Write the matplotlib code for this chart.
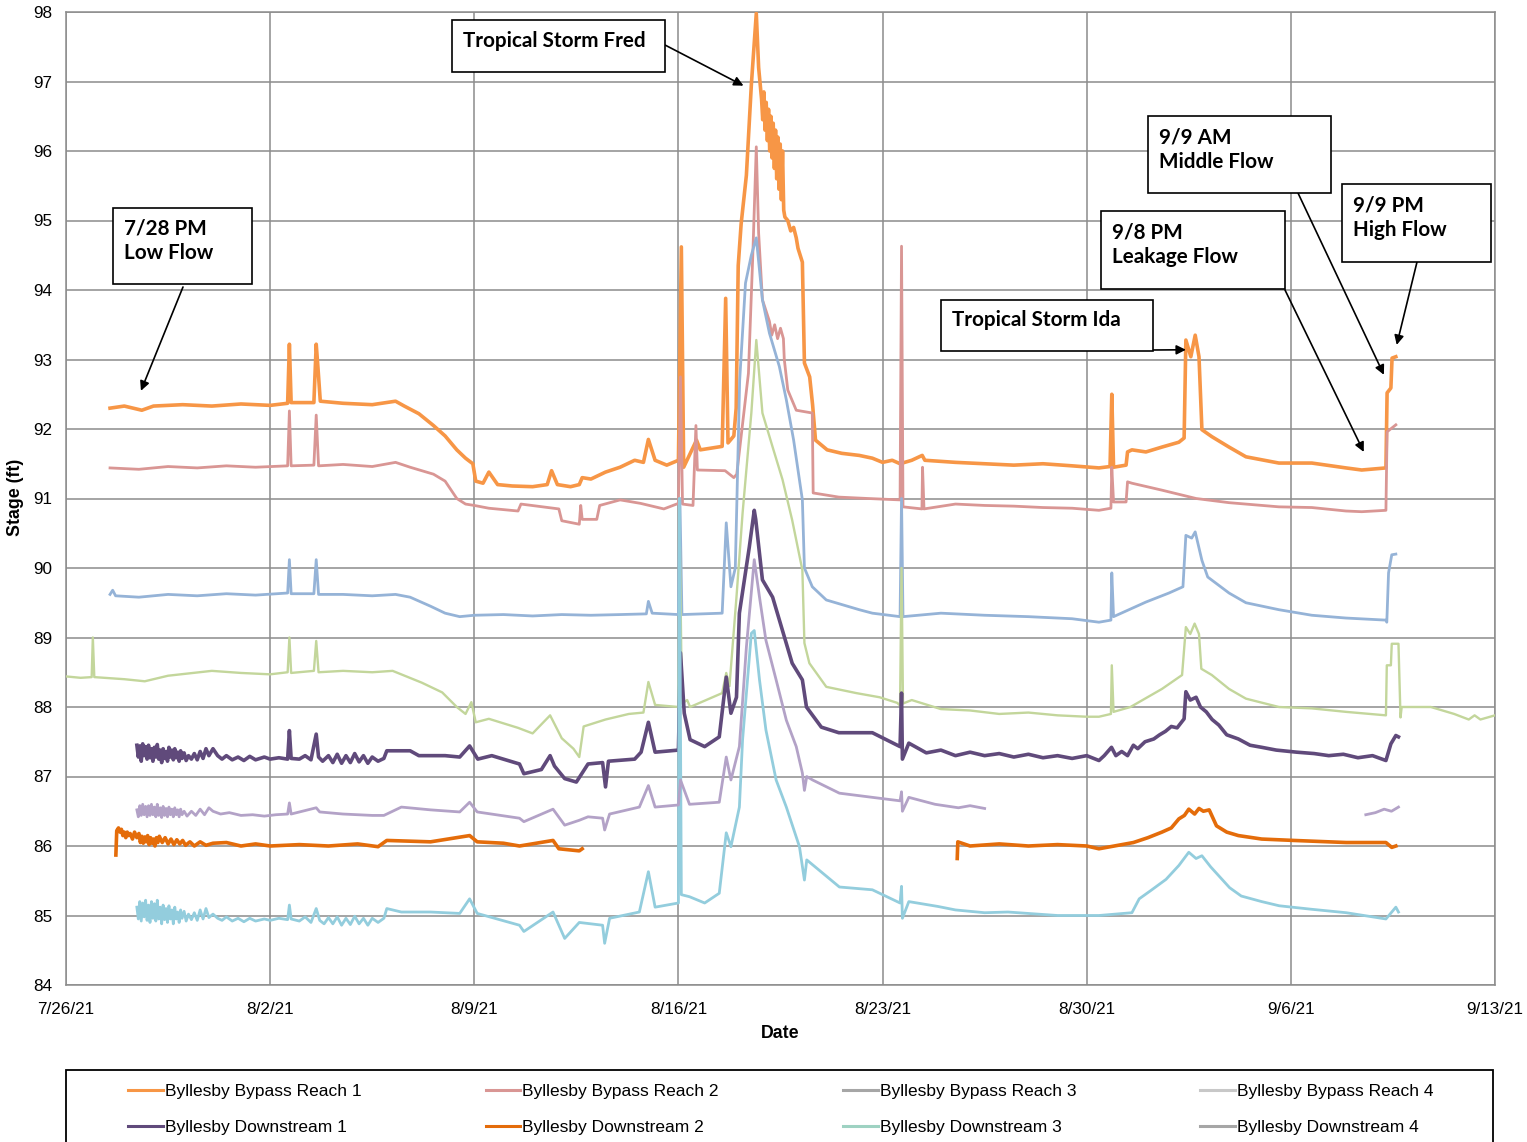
import numpy as np
import pandas as pd
import matplotlib.pyplot as plt
from matplotlib.patches import Rectangle
from matplotlib.lines import Line2D

plt.rcParams['font.family'] = ['Liberation Sans', 'DejaVu Sans']

# time axis: days since 7/26/21
START = pd.Timestamp('2021-07-26')

# Byllesby Bypass Reach 1
r1_t = [1.51, 2.0, 2.6, 3.0, 4.0, 5.0, 6.0, 7.0, 7.6, 7.66, 7.72, 8.5, 8.58, 8.64, 8.72, 9.5, 10.5,
        11.3, 11.6, 12.1, 12.6, 13.0, 13.4, 13.7, 13.95, 14.05, 14.3, 14.5, 14.8, 15.3, 16.0, 16.5,
        16.65, 16.85, 17.3, 17.6, 17.7, 18.0, 18.5, 19.0, 19.5, 19.8, 19.97, 20.2, 20.6, 21.0, 21.1,
        21.18, 21.35, 21.62, 21.75, 22.5, 22.62, 22.7, 22.9, 22.98, 23.05, 23.15, 23.33, 23.5, 23.67,
        23.75, 23.85, 23.89, 23.93, 23.97, 24.01, 24.05, 24.09, 24.13, 24.17, 24.21, 24.25, 24.29,
        24.33, 24.37, 24.41, 24.45, 24.49, 24.53, 24.57, 24.61, 24.65, 24.75, 24.85, 24.95, 25.04,
        25.1, 25.25, 25.32, 25.5, 25.6, 25.7, 26.1, 26.6, 27.2, 27.65, 28.0, 28.33, 28.6, 29.0,
        29.36, 29.45, 30.5, 31.5, 32.5, 33.5, 34.5, 35.42, 35.8, 35.86, 35.92, 36.35, 36.4, 36.55,
        37.03, 37.58, 38.16, 38.34, 38.4, 38.57, 38.72, 38.85, 38.95, 39.29, 39.88, 40.46, 41.59,
        42.72, 43.89, 44.43, 45.26, 45.3, 45.43, 45.47, 45.6]
r1_v = [92.30, 92.33, 92.27, 92.33, 92.35, 92.33, 92.36, 92.34, 92.37, 93.22, 92.38, 92.38, 93.22,
        92.88, 92.40, 92.37, 92.35, 92.40, 92.33, 92.22, 92.05, 91.90, 91.70, 91.58, 91.50, 91.25,
        91.22, 91.38, 91.20, 91.18, 91.17, 91.20, 91.40, 91.20, 91.17, 91.20, 91.30, 91.28, 91.38,
        91.45, 91.55, 91.52, 91.85, 91.55, 91.48, 91.55, 94.62, 91.45, 91.60, 91.84, 91.70, 91.75,
        93.88, 91.80, 91.90, 92.30, 94.35, 94.95, 95.65, 96.95, 97.98, 97.20, 96.75, 96.45, 96.85,
        96.30, 96.70, 96.15, 96.60, 96.00, 96.50, 95.90, 96.40, 95.75, 96.30, 95.60, 96.20, 95.45,
        96.10, 95.30, 96.00, 95.15, 95.05, 95.00, 94.85, 94.90, 94.75, 94.60, 94.40, 92.95, 92.75,
        92.35, 91.84, 91.70, 91.65, 91.62, 91.58, 91.52, 91.55, 91.50, 91.55, 91.62, 91.55, 91.52,
        91.50, 91.48, 91.50, 91.47, 91.44, 91.46, 92.50, 91.45, 91.48, 91.67, 91.70, 91.67, 91.74,
        91.81, 91.87, 93.28, 93.04, 93.35, 93.04, 91.99, 91.89, 91.74, 91.60, 91.51, 91.51, 91.44,
        91.41, 91.44, 92.52, 92.59, 93.02, 93.04]

# Byllesby Bypass Reach 2
r2_t = [1.51, 2.5, 3.5, 4.5, 5.5, 6.5, 7.6, 7.66, 7.72, 8.5, 8.58, 8.66, 9.5, 10.5, 11.3, 11.8, 12.6,
        13.0, 13.4, 13.7, 14.0, 14.5, 15.5, 15.6, 16.9, 17.0, 17.6, 17.65, 17.7, 18.2, 18.3, 19.0,
        19.7, 20.5, 21.0, 21.07, 21.14, 21.5, 21.6, 21.65, 22.6, 22.9, 23.0, 23.4, 23.55, 23.67,
        23.75, 23.88, 24.12, 24.2, 24.3, 24.4, 24.5, 24.6, 24.63, 24.75, 25.04, 25.59, 25.62, 26.5,
        27.5, 28.6, 28.65, 28.7, 29.35, 29.37, 29.42, 30.5, 31.5, 32.5, 33.5, 34.5, 35.42, 35.83,
        35.86, 35.92, 36.35, 36.4, 36.55, 37.58, 38.75, 39.88, 41.59, 42.72, 43.89, 44.43, 45.26,
        45.3, 45.6]
r2_v = [91.44, 91.42, 91.46, 91.44, 91.47, 91.45, 91.47, 92.26, 91.47, 91.48, 92.20, 91.47, 91.49,
        91.46, 91.52, 91.45, 91.35, 91.25, 91.00, 90.92, 90.90, 90.86, 90.82, 90.92, 90.85, 90.68,
        90.63, 90.90, 90.70, 90.70, 90.90, 90.98, 90.93, 90.85, 90.93, 92.75, 90.92, 90.90, 92.05,
        91.41, 91.40, 91.30, 91.35, 92.80, 94.50, 96.06, 94.82, 93.86, 93.55, 93.35, 93.50, 93.30,
        93.45, 93.30, 93.00, 92.56, 92.27, 92.23, 91.08, 91.02, 91.00, 90.98, 94.63, 90.88, 90.85,
        91.45, 90.85, 90.92, 90.90, 90.89, 90.87, 90.86, 90.83, 90.86, 91.45, 90.95, 90.95, 91.24,
        91.22, 91.12, 91.00, 90.94, 90.88, 90.87, 90.82, 90.81, 90.83, 91.96, 92.06]

# Byllesby Bypass Reach 3
r3_t = [1.51, 1.6, 1.7, 2.5, 3.5, 4.5, 5.5, 6.5, 7.6, 7.66, 7.72, 8.5, 8.58, 8.66, 9.5, 10.5, 11.3,
        11.8, 12.5, 13.0, 13.5, 14.0, 15.0, 16.0, 17.0, 18.0, 19.0, 19.9, 19.97, 20.1, 21.0, 21.05,
        21.12, 22.5, 22.64, 22.8, 22.95, 23.0, 23.1, 23.3, 23.5, 23.67, 23.88, 24.12, 24.46, 24.7,
        24.95, 25.25, 25.32, 25.59, 26.07, 27.2, 27.65, 28.6, 28.65, 28.7, 30.0, 31.5, 33.0, 34.5,
        35.42, 35.83, 35.86, 35.92, 37.03, 37.82, 38.3, 38.4, 38.6, 38.72, 38.95, 39.15, 39.88,
        40.46, 41.59, 42.72, 43.89, 45.26, 45.29, 45.35, 45.46, 45.6]
r3_v = [89.62, 89.68, 89.60, 89.58, 89.62, 89.60, 89.63, 89.61, 89.64, 90.12, 89.63, 89.63, 90.12,
        89.62, 89.62, 89.60, 89.62, 89.58, 89.45, 89.35, 89.30, 89.32, 89.33, 89.31, 89.33, 89.32,
        89.33, 89.34, 89.52, 89.35, 89.33, 91.00, 89.33, 89.35, 90.65, 89.73, 90.00, 90.88, 92.70,
        94.10, 94.50, 94.75, 93.86, 93.38, 92.90, 92.42, 91.84, 90.98, 90.00, 89.73, 89.54, 89.40,
        89.35, 89.30, 91.00, 89.30, 89.35, 89.32, 89.30, 89.27, 89.22, 89.25, 89.93, 89.30, 89.51,
        89.64, 89.73, 90.47, 90.43, 90.52, 90.11, 89.87, 89.64, 89.50, 89.40, 89.32, 89.28, 89.25,
        89.22, 89.93, 90.19, 90.20]

# Byllesby Bypass Reach 4
r4_t = [0.0, 0.5, 0.88, 0.92, 0.97, 2.0, 2.7, 3.5, 5.0, 6.0, 7.0, 7.6, 7.66, 7.72, 8.5, 8.58, 8.66,
        9.5, 10.5, 11.2, 12.2, 12.9, 13.4, 13.7, 13.9, 14.05, 14.5, 15.5, 16.0, 16.6, 17.0, 17.4,
        17.6, 17.75, 18.5, 19.3, 19.8, 19.97, 20.2, 21.0, 21.05, 21.12, 21.3, 21.4, 22.5, 22.64,
        22.75, 22.99, 23.2, 23.5, 23.67, 23.88, 24.23, 24.57, 24.9, 25.25, 25.32, 25.49, 26.07,
        27.1, 27.9, 28.5, 28.6, 28.65, 28.7, 29.0, 30.0, 31.0, 32.0, 33.0, 34.0, 35.0, 35.42, 35.83,
        35.86, 35.92, 36.5, 37.58, 38.27, 38.4, 38.55, 38.7, 38.85, 38.93, 39.29, 39.88, 40.46,
        41.59, 42.72, 43.89, 45.26, 45.29, 45.43, 45.46, 45.69, 45.76, 45.8, 46.8, 47.6, 48.1, 48.3,
        48.5, 49.0]
r4_v = [88.44, 88.42, 88.43, 89.00, 88.43, 88.40, 88.37, 88.45, 88.52, 88.49, 88.47, 88.50, 89.00,
        88.49, 88.52, 88.95, 88.50, 88.52, 88.50, 88.52, 88.35, 88.21, 88.00, 87.90, 88.07, 87.78,
        87.83, 87.70, 87.62, 87.88, 87.55, 87.40, 87.28, 87.72, 87.82, 87.90, 87.92, 88.36, 88.03,
        88.00, 90.30, 88.05, 88.10, 88.00, 88.20, 88.49, 88.30, 89.58, 90.79, 92.23, 93.28, 92.23,
        91.74, 91.27, 90.69, 89.97, 88.92, 88.63, 88.29, 88.20, 88.14, 88.06, 88.02, 90.00, 88.05,
        88.10, 87.97, 87.95, 87.90, 87.92, 87.88, 87.86, 87.86, 87.90, 88.60, 87.93, 88.00, 88.26,
        88.46, 89.15, 89.05, 89.20, 89.05, 88.55, 88.46, 88.26, 88.12, 88.00, 87.98, 87.93, 87.88,
        88.60, 88.60, 88.91, 88.91, 87.85, 88.00, 88.00, 87.90, 87.82, 87.88, 87.82, 87.88]

# Byllesby Downstream 1
d1_t = [2.43, 2.48, 2.53, 2.58, 2.63, 2.68, 2.73, 2.78, 2.83, 2.88, 2.93, 2.98, 3.03, 3.08, 3.13,
        3.18, 3.23, 3.28, 3.33, 3.38, 3.43, 3.48, 3.53, 3.58, 3.63, 3.68, 3.73, 3.78, 3.83, 3.88,
        3.93, 3.98, 4.05, 4.12, 4.2, 4.3, 4.4, 4.5, 4.6, 4.7, 4.8, 4.9, 5.04, 5.2, 5.35, 5.5, 5.7,
        5.9, 6.1, 6.3, 6.5, 6.8, 7.0, 7.3, 7.6, 7.66, 7.72, 8.0, 8.2, 8.4, 8.58, 8.66, 8.8, 9.0,
        9.15, 9.3, 9.45, 9.6, 9.75, 9.9, 10.05, 10.2, 10.35, 10.5, 10.7, 10.9, 11.0, 11.8, 12.1,
        13.0, 13.5, 13.84, 14.12, 14.6, 15.0, 15.55, 15.7, 16.3, 16.6, 16.75, 17.1, 17.5, 17.9,
        18.4, 18.5, 18.6, 19.5, 19.72, 19.97, 20.2, 21.0, 21.07, 21.2, 21.4, 21.9, 22.4, 22.64,
        22.8, 22.99, 23.09, 23.43, 23.6, 23.65, 23.88, 24.23, 24.57, 24.9, 25.25, 25.39, 25.9,
        26.5, 27.65, 28.6, 28.65, 28.68, 28.9, 29.5, 30.0, 30.5, 31.0, 31.5, 32.0, 32.5, 33.0,
        33.5, 34.0, 34.5, 35.0, 35.42, 35.6, 35.85, 36.0, 36.2, 36.4, 36.6, 36.75, 37.0, 37.3,
        37.5, 37.7, 37.9, 38.1, 38.34, 38.4, 38.55, 38.75, 38.9, 39.1, 39.3, 39.53, 39.8, 40.2,
        40.6, 41.0, 41.5, 42.2, 42.8, 43.3, 43.8, 44.3, 44.8, 45.26, 45.43, 45.6, 45.69]
d1_v = [87.45, 87.28, 87.44, 87.22, 87.47, 87.30, 87.43, 87.25, 87.45, 87.27, 87.40, 87.22, 87.42,
        87.28, 87.46, 87.25, 87.38, 87.20, 87.40, 87.26, 87.36, 87.22, 87.42, 87.28, 87.38, 87.24,
        87.40, 87.27, 87.35, 87.22, 87.37, 87.26, 87.34, 87.23, 87.30, 87.25, 87.33, 87.24, 87.36,
        87.26, 87.40, 87.30, 87.40, 87.30, 87.25, 87.30, 87.24, 87.28, 87.23, 87.29, 87.24, 87.28,
        87.25, 87.27, 87.25, 87.66, 87.26, 87.25, 87.30, 87.24, 87.61, 87.28, 87.22, 87.30, 87.20,
        87.32, 87.19, 87.30, 87.20, 87.33, 87.21, 87.30, 87.19, 87.28, 87.22, 87.26, 87.37, 87.37,
        87.30, 87.30, 87.28, 87.44, 87.25, 87.30, 87.25, 87.18, 87.04, 87.10, 87.30, 87.15, 86.97,
        86.92, 87.18, 87.20, 86.85, 87.22, 87.25, 87.35, 87.78, 87.35, 87.38, 88.78, 87.91, 87.53,
        87.43, 87.57, 88.43, 87.91, 88.14, 89.35, 90.30, 90.83, 90.70, 89.83, 89.58, 89.10, 88.63,
        88.39, 88.00, 87.71, 87.63, 87.63, 87.43, 88.20, 87.25, 87.48, 87.34, 87.38, 87.30, 87.35,
        87.30, 87.33, 87.28, 87.32, 87.27, 87.30, 87.26, 87.30, 87.23, 87.30, 87.42, 87.30, 87.36,
        87.30, 87.45, 87.40, 87.50, 87.54, 87.60, 87.65, 87.72, 87.70, 87.83, 88.22, 88.10, 88.14,
        88.00, 87.93, 87.82, 87.74, 87.60, 87.54, 87.45, 87.42, 87.38, 87.35, 87.33, 87.30, 87.32,
        87.27, 87.30, 87.23, 87.47, 87.59, 87.57]

# Byllesby Downstream 2 (logger gap 8/13 - 8/25)
d2_t = [1.71, 1.74, 1.8, 1.85, 1.9, 1.95, 2.0, 2.05, 2.1, 2.15, 2.2, 2.28, 2.35, 2.43, 2.5, 2.55,
        2.6, 2.65, 2.7, 2.75, 2.8, 2.85, 2.9, 2.95, 3.0, 3.05, 3.1, 3.15, 3.2, 3.3, 3.4, 3.5, 3.6,
        3.7, 3.8, 3.9, 4.0, 4.1, 4.25, 4.4, 4.6, 4.8, 5.04, 5.5, 6.0, 6.5, 7.0, 8.0, 9.0, 10.0,
        10.7, 11.0, 12.5, 13.84, 14.1, 15.0, 15.55, 16.7, 16.9, 17.6, 17.7, 24.0, 30.56, 30.58,
        31.0, 32.0, 33.0, 34.0, 35.0, 35.42, 36.6, 37.1, 37.58, 37.9, 38.16, 38.35, 38.5, 38.7,
        38.85, 39.0, 39.2, 39.45, 39.8, 40.2, 41.0, 42.1, 43.9, 45.26, 45.46, 45.6]
d2_v = [85.87, 86.22, 86.26, 86.20, 86.24, 86.15, 86.20, 86.12, 86.20, 86.15, 86.18, 86.10, 86.20,
        86.12, 86.18, 86.05, 86.14, 86.04, 86.13, 86.06, 86.15, 86.02, 86.12, 86.04, 86.10, 86.00,
        86.12, 86.05, 86.14, 86.05, 86.12, 86.03, 86.10, 86.02, 86.09, 86.03, 86.08, 86.01, 86.06,
        86.00, 86.06, 86.01, 86.04, 86.05, 86.00, 86.03, 86.00, 86.02, 86.00, 86.03, 85.99, 86.08,
        86.06, 86.15, 86.06, 86.04, 86.00, 86.08, 85.96, 85.93, 85.96, np.nan, 85.82, 86.06, 86.00,
        86.03, 86.00, 86.02, 86.00, 85.96, 86.05, 86.12, 86.20, 86.26, 86.39, 86.44, 86.53, 86.46,
        86.54, 86.50, 86.52, 86.29, 86.20, 86.15, 86.10, 86.08, 86.05, 86.05, 85.98, 86.00]

# Byllesby Downstream 3
d3_t = [2.43, 2.48, 2.53, 2.58, 2.63, 2.68, 2.73, 2.78, 2.83, 2.88, 2.93, 2.98, 3.03, 3.08, 3.13,
        3.18, 3.23, 3.28, 3.33, 3.38, 3.43, 3.48, 3.53, 3.58, 3.63, 3.68, 3.73, 3.78, 3.83, 3.88,
        3.93, 3.98, 4.05, 4.12, 4.2, 4.3, 4.4, 4.5, 4.6, 4.7, 4.8, 4.9, 5.04, 5.2, 5.35, 5.5, 5.7,
        5.9, 6.1, 6.3, 6.5, 6.8, 7.0, 7.3, 7.6, 7.66, 7.72, 8.0, 8.2, 8.4, 8.58, 8.7, 8.85, 9.0,
        9.15, 9.3, 9.45, 9.6, 9.75, 9.9, 10.05, 10.2, 10.35, 10.5, 10.7, 10.9, 11.0, 11.5, 12.5,
        13.5, 13.84, 14.1, 15.55, 15.7, 16.7, 17.1, 17.6, 18.4, 18.47, 18.64, 19.66, 19.97, 20.2,
        21.0, 21.03, 21.1, 21.38, 21.9, 22.4, 22.64, 22.8, 23.09, 23.2, 23.5, 23.6, 23.78, 24.0,
        24.35, 24.7, 25.15, 25.32, 25.4, 25.83, 26.52, 27.65, 28.6, 28.65, 28.68, 28.9, 29.9, 30.5,
        31.5, 32.3, 33.0, 34.0, 35.0, 35.42, 36.55, 36.8, 37.2, 37.72, 38.16, 38.5, 38.75, 38.95,
        39.25, 39.53, 39.9, 40.3, 41.0, 41.6, 42.7, 43.9, 45.26, 45.6, 45.69]
d3_v = [85.12, 84.95, 85.20, 84.92, 85.18, 84.98, 85.22, 84.93, 85.15, 84.90, 85.20, 84.96, 85.17,
        84.92, 85.22, 84.95, 85.12, 84.88, 85.15, 84.94, 85.10, 84.90, 85.14, 84.95, 85.08, 84.88,
        85.12, 84.95, 85.05, 84.90, 85.08, 84.96, 85.06, 84.92, 85.02, 84.94, 85.04, 84.93, 85.08,
        84.95, 85.10, 84.97, 85.02, 84.96, 84.93, 84.98, 84.92, 84.96, 84.91, 84.96, 84.92, 84.95,
        84.93, 84.96, 84.94, 85.15, 84.95, 84.92, 84.98, 84.90, 85.10, 84.93, 84.88, 84.97, 84.88,
        84.98, 84.86, 84.96, 84.87, 84.99, 84.88, 84.96, 84.86, 84.96, 84.90, 84.96, 85.10, 85.05,
        85.05, 85.03, 85.24, 85.03, 84.86, 84.77, 85.05, 84.67, 84.90, 84.86, 84.60, 84.96, 85.05,
        85.63, 85.12, 85.18, 91.00, 85.30, 85.27, 85.18, 85.32, 86.19, 85.99, 86.56, 87.53, 89.06,
        89.10, 88.39, 87.67, 86.95, 86.56, 85.99, 85.51, 85.80, 85.65, 85.41, 85.37, 85.18, 85.42,
        84.96, 85.20, 85.13, 85.08, 85.04, 85.05, 85.03, 85.00, 85.00, 85.00, 85.04, 85.24, 85.36,
        85.52, 85.72, 85.91, 85.82, 85.86, 85.70, 85.57, 85.40, 85.28, 85.20, 85.14, 85.09, 85.04,
        84.95, 85.12, 85.05]

# Byllesby Downstream 4 (logger gap 8/27 - 9/9)
d4_t = [2.43, 2.48, 2.53, 2.58, 2.63, 2.68, 2.73, 2.78, 2.83, 2.88, 2.93, 2.98, 3.03, 3.08, 3.13,
        3.18, 3.23, 3.28, 3.33, 3.38, 3.43, 3.48, 3.53, 3.58, 3.63, 3.68, 3.73, 3.78, 3.83, 3.88,
        3.93, 3.98, 4.05, 4.15, 4.3, 4.45, 4.6, 4.75, 4.9, 5.04, 5.3, 5.6, 6.0, 6.4, 6.8, 7.2, 7.6,
        7.66, 7.72, 8.58, 8.7, 9.5, 10.5, 10.9, 11.5, 12.5, 13.5, 13.84, 14.1, 15.55, 15.7, 16.7,
        17.1, 17.6, 17.9, 18.4, 18.47, 18.64, 19.66, 19.97, 20.2, 21.0, 21.07, 21.38, 22.4, 22.64,
        22.8, 23.09, 23.33, 23.6, 23.78, 24.0, 24.35, 24.7, 25.04, 25.25, 25.32, 25.4, 25.6, 26.52,
        27.65, 28.6, 28.65, 28.68, 28.9, 29.8, 30.6, 31.0, 31.5, 38.0, 44.57, 44.9, 45.2, 45.45,
        45.69]
d4_v = [86.52, 86.42, 86.58, 86.44, 86.60, 86.45, 86.57, 86.42, 86.58, 86.44, 86.60, 86.45, 86.56,
        86.42, 86.60, 86.44, 86.55, 86.41, 86.57, 86.44, 86.54, 86.42, 86.56, 86.45, 86.53, 86.42,
        86.55, 86.45, 86.52, 86.42, 86.53, 86.45, 86.50, 86.43, 86.50, 86.44, 86.53, 86.45, 86.55,
        86.50, 86.46, 86.48, 86.44, 86.45, 86.43, 86.45, 86.46, 86.62, 86.46, 86.55, 86.49, 86.46,
        86.44, 86.44, 86.56, 86.52, 86.49, 86.63, 86.49, 86.40, 86.35, 86.53, 86.30, 86.37, 86.42,
        86.40, 86.23, 86.46, 86.56, 86.87, 86.56, 86.59, 86.95, 86.60, 86.63, 87.28, 86.95, 87.43,
        88.86, 90.12, 89.58, 88.96, 88.39, 87.81, 87.43, 87.05, 86.80, 87.00, 86.95, 86.76, 86.70,
        86.65, 86.78, 86.50, 86.70, 86.60, 86.55, 86.58, 86.54, np.nan, 86.45, 86.48, 86.53, 86.50,
        86.56]

labels = ['Byllesby Bypass Reach 1', 'Byllesby Bypass Reach 2', 'Byllesby Bypass Reach 3',
          'Byllesby Bypass Reach 4', 'Byllesby Downstream 1', 'Byllesby Downstream 2',
          'Byllesby Downstream 3', 'Byllesby Downstream 4']
times = [r1_t, r2_t, r3_t, r4_t, d1_t, d2_t, d3_t, d4_t]
stages = [r1_v, r2_v, r3_v, r4_v, d1_v, d2_v, d3_v, d4_v]

line_colors = ['#F79646', '#D99694', '#95B3D7', '#C3D69B', '#604A7B', '#E46C0A', '#93CDDD', '#B3A2C7']
line_widths = [2.6, 2.0, 2.0, 1.7, 2.6, 2.6, 2.0, 2.0]
# legend swatches as they appear in the workbook
key_colors = ['#F79646', '#D99694', '#A6A6A6', '#C8C8C8', '#604A7B', '#E46C0A', '#9ED2C2', '#A6A6A6']

W, H = 1527, 1142
fig = plt.figure(figsize=(W / 100, H / 100), dpi=100)
ax = fig.add_axes([66 / W, 1 - 985 / H, (1495 - 66) / W, (985 - 12) / H])


def to_date(days):
    return START + pd.to_timedelta(np.asarray(days, dtype=float), unit='D')


for t, v, c, lw in zip(times, stages, line_colors, line_widths):
    ax.plot(to_date(t), v, color=c, lw=lw, solid_joinstyle='round', zorder=3)

ax.set_xlim(START, START + pd.Timedelta(days=49))
ax.set_ylim(84, 98)
xt = [START + pd.Timedelta(days=7 * i) for i in range(8)]
ax.set_xticks(xt)
ax.set_xticklabels([f'{d.month}/{d.day}/{d:%y}' for d in xt])
ax.set_yticks(range(84, 99))
ax.grid(True, color='#8C8C8C', lw=1.1, zorder=0)
ax.set_axisbelow(True)
for s in ax.spines.values():
    s.set_color('#8C8C8C')
    s.set_linewidth(1.1)
ax.tick_params(length=0, labelsize=12.3, colors='black')
ax.tick_params(axis='x', pad=12)
ax.tick_params(axis='y', pad=10)
ax.set_xlabel('Date', fontsize=12.8, fontweight='bold', labelpad=6)


def fig_xy(px, py):
    return px / W, 1 - py / H


fig.text(*fig_xy(16, 497), 'Stage (ft)', rotation=90, ha='center', va='center',
         fontsize=12.8, fontweight='bold')

# callout boxes: (x0, y0, x1, y1) in pixels, text lines
callouts = [
    ((452, 20, 665, 72), 'Tropical Storm Fred'),
    ((113, 208, 252, 284), '7/28 PM\nLow Flow'),
    ((941, 300, 1153, 351), 'Tropical Storm Ida'),
    ((1101, 211, 1285, 289), '9/8 PM\nLeakage Flow'),
    ((1148, 116, 1331, 193), '9/9 AM\nMiddle Flow'),
    ((1342, 184, 1491, 262), '9/9 PM\nHigh Flow'),
]
for (x0, y0, x1, y1), txt in callouts:
    fx0, fy1 = fig_xy(x0, y1)
    rect = Rectangle((fx0, fy1), (x1 - x0) / W, (y1 - y0) / H, transform=fig.transFigure,
                     facecolor='white', edgecolor='black', lw=1.2, zorder=5)
    fig.add_artist(rect)
    tx, ty = fig_xy(x0 + 11, (y0 + y1) / 2 - 5)
    fig.text(tx, ty, txt, ha='left', va='center', fontsize=14.9, fontweight='bold',
             family=['Lato', 'DejaVu Sans'], linespacing=1.31, zorder=6)

# arrows: start point of each on its box (pixels) -> point on the record (day, stage)
arrows = [
    ((665, 45), (23.23, 96.94)),
    ((183, 287), (2.57, 92.55)),
    ((1153, 350), (38.40, 93.14)),
    ((1285, 290), (44.50, 91.67)),
    ((1298, 193), (45.19, 92.78)),
    ((1417, 262), (45.63, 93.21)),
]
for (sx, sy), (d, v) in arrows:
    ax.annotate('', xy=(START + pd.Timedelta(days=d), v), xycoords='data',
                xytext=fig_xy(sx, sy), textcoords='figure fraction',
                arrowprops=dict(arrowstyle='-|>', color='black', lw=1.2, mutation_scale=14,
                                shrinkA=0, shrinkB=0),
                annotation_clip=False, zorder=7)

# legend at the bottom, frame runs past the lower edge
fx0, fy = fig_xy(66, 1150)
fig.add_artist(Rectangle((fx0, fy), (1493 - 66) / W, 80 / H, transform=fig.transFigure,
                         facecolor='white', edgecolor='black', lw=1.3, zorder=1))
order = [0, 4, 1, 5, 2, 6, 3, 7]
handles = [Line2D([], [], color=key_colors[i], lw=2.2) for i in order]
fig.legend(handles, [labels[i] for i in order], loc='upper left', ncol=4,
           bbox_to_anchor=fig_xy(128, 1084), frameon=False, fontsize=12.5,
           handlelength=2.0, handletextpad=0.12, columnspacing=7.15, labelspacing=1.18,
           borderpad=0, borderaxespad=0)

fig.savefig('out.png', dpi=100)
